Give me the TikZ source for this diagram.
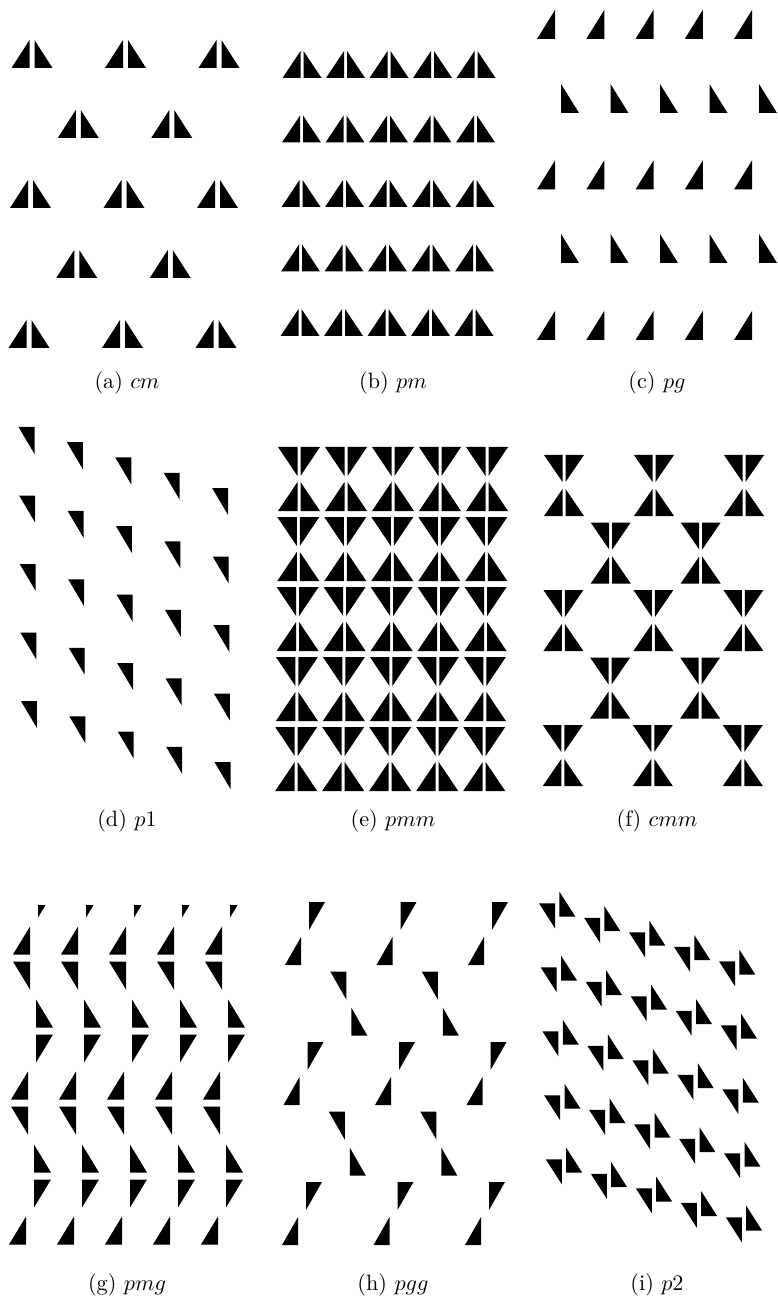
\documentclass[tikz,border=0pt]{standalone}
\tikzset{motivo/.style={fill=black}, leyenda/.style={inner sep=0pt}}
% triángulos rectángulos: (x,y) es el vértice del ángulo recto
\newcommand{\triw}{18}
\newcommand{\trih}{28}
\newcommand{\triBR}[2]{\fill[motivo] (#1,#2) -- ++(-\triw,0) -- ++(\triw,-\trih) -- cycle;}
\newcommand{\triBL}[2]{\fill[motivo] (#1,#2) -- ++(\triw,0) -- ++(-\triw,-\trih) -- cycle;}
\newcommand{\triTR}[2]{\fill[motivo] (#1,#2) -- ++(-\triw,0) -- ++(\triw,\trih) -- cycle;}
\newcommand{\triTL}[2]{\fill[motivo] (#1,#2) -- ++(\triw,0) -- ++(-\triw,\trih) -- cycle;}
\begin{document}
\begin{tikzpicture}[x=0.45pt, y=-0.45pt]
            \useasboundingbox (0,0) rectangle (777,1310);

            % 1. Patrón cm
            \begin{scope}
            \def\triw{18}\def\trih{28}
            \foreach \r in {0,2,4} \foreach \i in {0,1,2} {
                \pgfmathsetmacro\cx{32+93.5*\i-0.75*\r}
                \pgfmathsetmacro\yb{68+70*\r}
                \triBR{\cx-2.5}{\yb} \triBL{\cx+2.5}{\yb}
            }
            \foreach \r in {1,3} \foreach \i in {0,1} {
                \pgfmathsetmacro\cx{79+93.5*\i-0.75*\r}
                \pgfmathsetmacro\yb{68+70*\r}
                \triBR{\cx-2.5}{\yb} \triBL{\cx+2.5}{\yb}
            }
            \end{scope}

            % 2. Patrón pm
            \begin{scope}
            \def\triw{18}\def\trih{27}
            \foreach \r in {0,...,4} \foreach \i in {0,...,4} {
                \pgfmathsetmacro\cx{302+43.5*\i-0.5*\r}
                \pgfmathsetmacro\yb{78+64.5*\r}
                \triBR{\cx-1.5}{\yb} \triBL{\cx+1.5}{\yb}
            }
            \end{scope}

            % 3. Patrón pg
            \begin{scope}
            \def\triw{18}\def\trih{29}
            \foreach \k in {0,1,2} \foreach \i in {0,...,4} {
                \triBR{555+49.25*\i}{39+150.5*\k}
            }
            \foreach \k in {0,1} \foreach \i in {0,...,4} {
                \triBL{561+49.5*\i}{113+150*\k}
            }
            \end{scope}

            % 4. Patrón p1
            \begin{scope}
            \def\triw{16}\def\trih{27}
            \foreach \i in {0,...,4} \foreach \j in {0,...,4} {
                \triTR{34.5+48.4*\i+0.6*\j}{427+15.25*\i+68.5*\j}
            }
            \end{scope}

            % 5. Patrón pmm
            \begin{scope}
            \def\triw{19.5}\def\trih{29}
            \foreach \j in {0,...,4} \foreach \i in {0,...,4} {
                \pgfmathsetmacro\cx{299+47*\i-0.7*\j}
                \pgfmathsetmacro\yt{447+70*\j}
                \triTR{\cx-1.5}{\yt} \triTL{\cx+1.5}{\yt}
                \triBR{\cx-1.5}{\yt+64} \triBL{\cx+1.5}{\yt+64}
            }
            \end{scope}

            % 6. Patrón cmm
            \begin{scope}
            \def\triw{18.5}\def\trih{27}
            \foreach \r in {0,2,4} \foreach \i in {0,1,2} {
                \pgfmathsetmacro\cx{564+90*\i-0.3*\r}
                \pgfmathsetmacro\yt{455+67.5*\r}
                \triTR{\cx-1.5}{\yt} \triTL{\cx+1.5}{\yt}
                \triBR{\cx-1.5}{\yt+61} \triBL{\cx+1.5}{\yt+61}
            }
            \foreach \r in {1,3} \foreach \i in {0,1} {
                \pgfmathsetmacro\cx{611+90*\i-0.3*\r}
                \pgfmathsetmacro\yt{455+67.5*\r}
                \triTR{\cx-1.5}{\yt} \triTL{\cx+1.5}{\yt}
                \triBR{\cx-1.5}{\yt+61} \triBL{\cx+1.5}{\yt+61}
            }
            \end{scope}

            % 7. Patrón pmg (recortado arriba y abajo)
            \begin{scope}
            \clip (0,905) rectangle (260,1250);
            \def\triw{17}\def\trih{28}
            \foreach \k in {0,1,2} \foreach \i in {0,...,4} {
                \pgfmathsetmacro\ym{958+145*\k}
                \pgfmathsetmacro\xr{30+48*\i-2*\k}
                \triBR{\xr}{\ym-3.5} \triTR{\xr}{\ym+3.5}
            }
            \foreach \k in {-1,0,1} \foreach \i in {0,...,4} {
                \pgfmathsetmacro\ym{1031+145*\k}
                \pgfmathsetmacro\xl{36+48*\i-2*\k}
                \triBL{\xl}{\ym-3.5} \triTL{\xl}{\ym+3.5}
            }
            \end{scope}

            % 8. Patrón pgg
            \begin{scope}
            \def\triw{16}\def\trih{28}
            \foreach \r in {0,2,4} \foreach \i in {0,1,2} {
                \pgfmathsetmacro\cx{305+91.5*\i-0.75*\r}
                \pgfmathsetmacro\cy{933.5+70*\r}
                \triTL{\cx+4}{\cy-31.5} \triBR{\cx-4}{\cy+31.5}
            }
            \foreach \r in {1,3} \foreach \i in {0,1} {
                \pgfmathsetmacro\cx{349.5+91.5*\i-0.75*\r}
                \pgfmathsetmacro\cy{933.5+70*\r}
                \triTR{\cx-2.5}{\cy-32} \triBL{\cx+2.5}{\cy+32}
            }
            \end{scope}

            % 9. Patrón p2
            \begin{scope}
            \def\triw{16}\def\trih{25}
            \foreach \i in {0,...,4} \foreach \j in {0,...,4} {
                \pgfmathsetmacro\cx{557.2+45*\i+1.7*\j}
                \pgfmathsetmacro\cy{910+14.5*\i+64*\j}
                \triTR{\cx-2.2}{\cy-6.7} \triBL{\cx+2.2}{\cy+6.7}
            }
            \end{scope}

            % Leyendas
            \node[leyenda] (capA) at (127,383) {(a) $cm$};
            \node[leyenda] (capB) at (393,383) {(b) $pm$};
            \node[leyenda] (capC) at (657,383) {(c) $pg$};
            \node[leyenda] (capD) at (127,821) {(d) $p1$};
            \node[leyenda] (capE) at (393,821) {(e) $pmm$};
            \node[leyenda] (capF) at (657,821) {(f) $cmm$};
            \node[leyenda] (capG) at (127,1285) {(g) $pmg$};
            \node[leyenda] (capH) at (393,1285) {(h) $pgg$};
            \node[leyenda] (capI) at (657,1285) {(i) $p2$};
        \end{tikzpicture}
\end{document}
